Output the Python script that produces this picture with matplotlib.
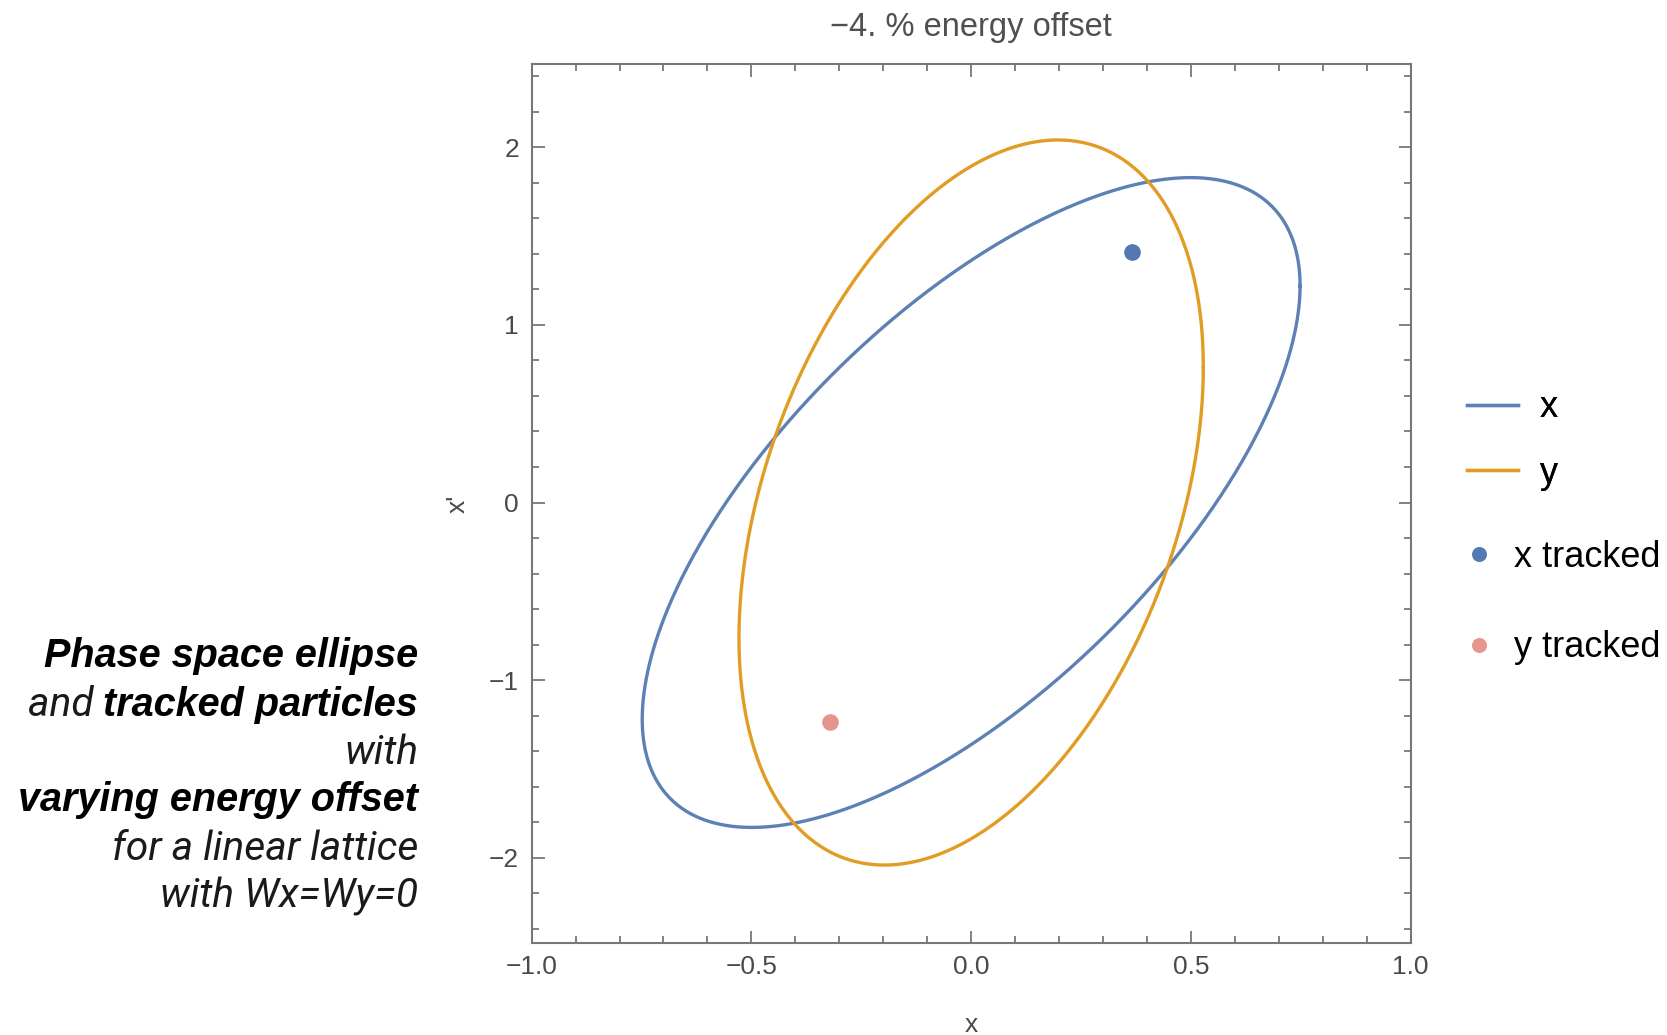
import numpy as np
import matplotlib
matplotlib.use("Agg")
import matplotlib.pyplot as plt
from matplotlib.ticker import MultipleLocator

# ---------------- data ----------------
title = "\u22124. % energy offset"
series_names = ["x", "y"]
emittance = [1.02, 1.0]
twiss_beta = [0.549, 0.279]
twiss_alpha = [-0.895, -0.403]
tracked_names = ["x tracked", "y tracked"]
tracked_pos = [0.366, -0.320]
tracked_mom = [1.413, -1.234]
xticks = [-1.0, -0.5, 0.0, 0.5, 1.0]
xticklabels = ["\u22121.0", "\u22120.5", "0.0", "0.5", "1.0"]
yticks = [-2, -1, 0, 1, 2]
yticklabels = ["\u22122", "\u22121", "0", "1", "2"]
xlim = (-1.0, 1.0)
ylim = (-2.48, 2.47)

line_colors = ["#5E81B5", "#E19C24"]
dot_colors = ["#5478B5", "#E6958C"]
frame_color = "#777777"
label_color = "#4a4a4a"

W, H = 1667, 1035
fig = plt.figure(figsize=(W / 100, H / 100), dpi=100)
fig.patch.set_facecolor("white")

l, r, t, b = 531.6, 1410.7, 63.8, 943.0
ax = fig.add_axes([l / W, 1 - b / H, (r - l) / W, (b - t) / H])

phi = np.linspace(0, 2 * np.pi, 721)
lines = []
for name, eps, beta, alpha, c in zip(series_names, emittance, twiss_beta, twiss_alpha, line_colors):
    u = np.sqrt(eps * beta) * np.cos(phi)
    up = -np.sqrt(eps / beta) * (alpha * np.cos(phi) + np.sin(phi))
    ln, = ax.plot(u, up, color=c, lw=2.4, label=name, solid_joinstyle="round")
    lines.append(ln)

dots = []
for name, xp, yp, c in zip(tracked_names, tracked_pos, tracked_mom, dot_colors):
    d, = ax.plot([xp], [yp], "o", ms=12, color=c, mec="none", label=name, linestyle="none")
    dots.append(d)

ax.set_xlim(*xlim)
ax.set_ylim(*ylim)
ax.set_xticks(xticks)
ax.set_xticklabels(xticklabels)
ax.set_yticks(yticks)
ax.set_yticklabels(yticklabels)
ax.xaxis.set_minor_locator(MultipleLocator(0.1))
ax.yaxis.set_minor_locator(MultipleLocator(0.2))
for s in ax.spines.values():
    s.set_color(frame_color)
    s.set_linewidth(1.5)
ax.tick_params(which="both", direction="in", top=True, right=True, color=frame_color, width=1.3)
ax.tick_params(which="major", length=9, labelsize=19, labelcolor=label_color, pad=9)
ax.tick_params(which="minor", length=5)
tick_family = ["Liberation Sans Narrow", "Liberation Sans", "DejaVu Sans"]
for lab in ax.get_xticklabels() + ax.get_yticklabels():
    lab.set_family(tick_family)

ax.set_title(title, fontsize=23.5, color="#505050", pad=20,
             family=["Liberation Sans", "DejaVu Sans"])
ax.set_xlabel("x", fontsize=19, color=label_color, labelpad=24, family=tick_family)
ax.set_ylabel("x'", fontsize=19, color=label_color, labelpad=14, rotation=90, family=tick_family)

# legends
leg_font = {"family": ["Liberation Sans", "DejaVu Sans"], "size": 26}
leg1 = fig.legend(handles=lines, loc="center left", bbox_to_anchor=(1467 / W, 1 - 440.5 / H),
                  frameon=False, prop=leg_font, handlelength=1.4, handletextpad=0.62,
                  labelspacing=0.85, borderaxespad=0, borderpad=0)
leg2 = fig.legend(handles=dots, loc="center left", bbox_to_anchor=(1466 / W, 1 - 602.5 / H),
                  frameon=False, prop=leg_font, handlelength=0.7, handletextpad=0.62,
                  labelspacing=1.55, borderaxespad=0, borderpad=0, markerscale=0.9)
fig.add_artist(leg1)

# left annotation text
fig.canvas.draw()
renderer = fig.canvas.get_renderer()
bold = dict(family=["Liberation Sans", "DejaVu Sans"], weight="bold", style="italic", size=28.5, color="black")
light = dict(family=["Roboto", "DejaVu Sans"], weight="normal", style="italic", size=29.3, color="#1a1a1a")
x_right = 418
text_lines = [
    [("Phase space ellipse", bold)],
    [("and ", light), ("tracked particles", bold)],
    [("with", light)],
    [("varying energy offset", bold)],
    [("for a linear lattice", light)],
    [("with Wx=Wy=0", light)],
]
baselines = [667, 716, 764, 811, 860, 908]
for parts, yb in zip(text_lines, baselines):
    xr = x_right
    for txt, style in reversed(parts):
        tt = fig.text(xr / W, 1 - yb / H, txt, ha="right", va="baseline", **style)
        bb = tt.get_window_extent(renderer=renderer)
        xr = bb.x0

fig.savefig("out.png", dpi=100, facecolor="white")
